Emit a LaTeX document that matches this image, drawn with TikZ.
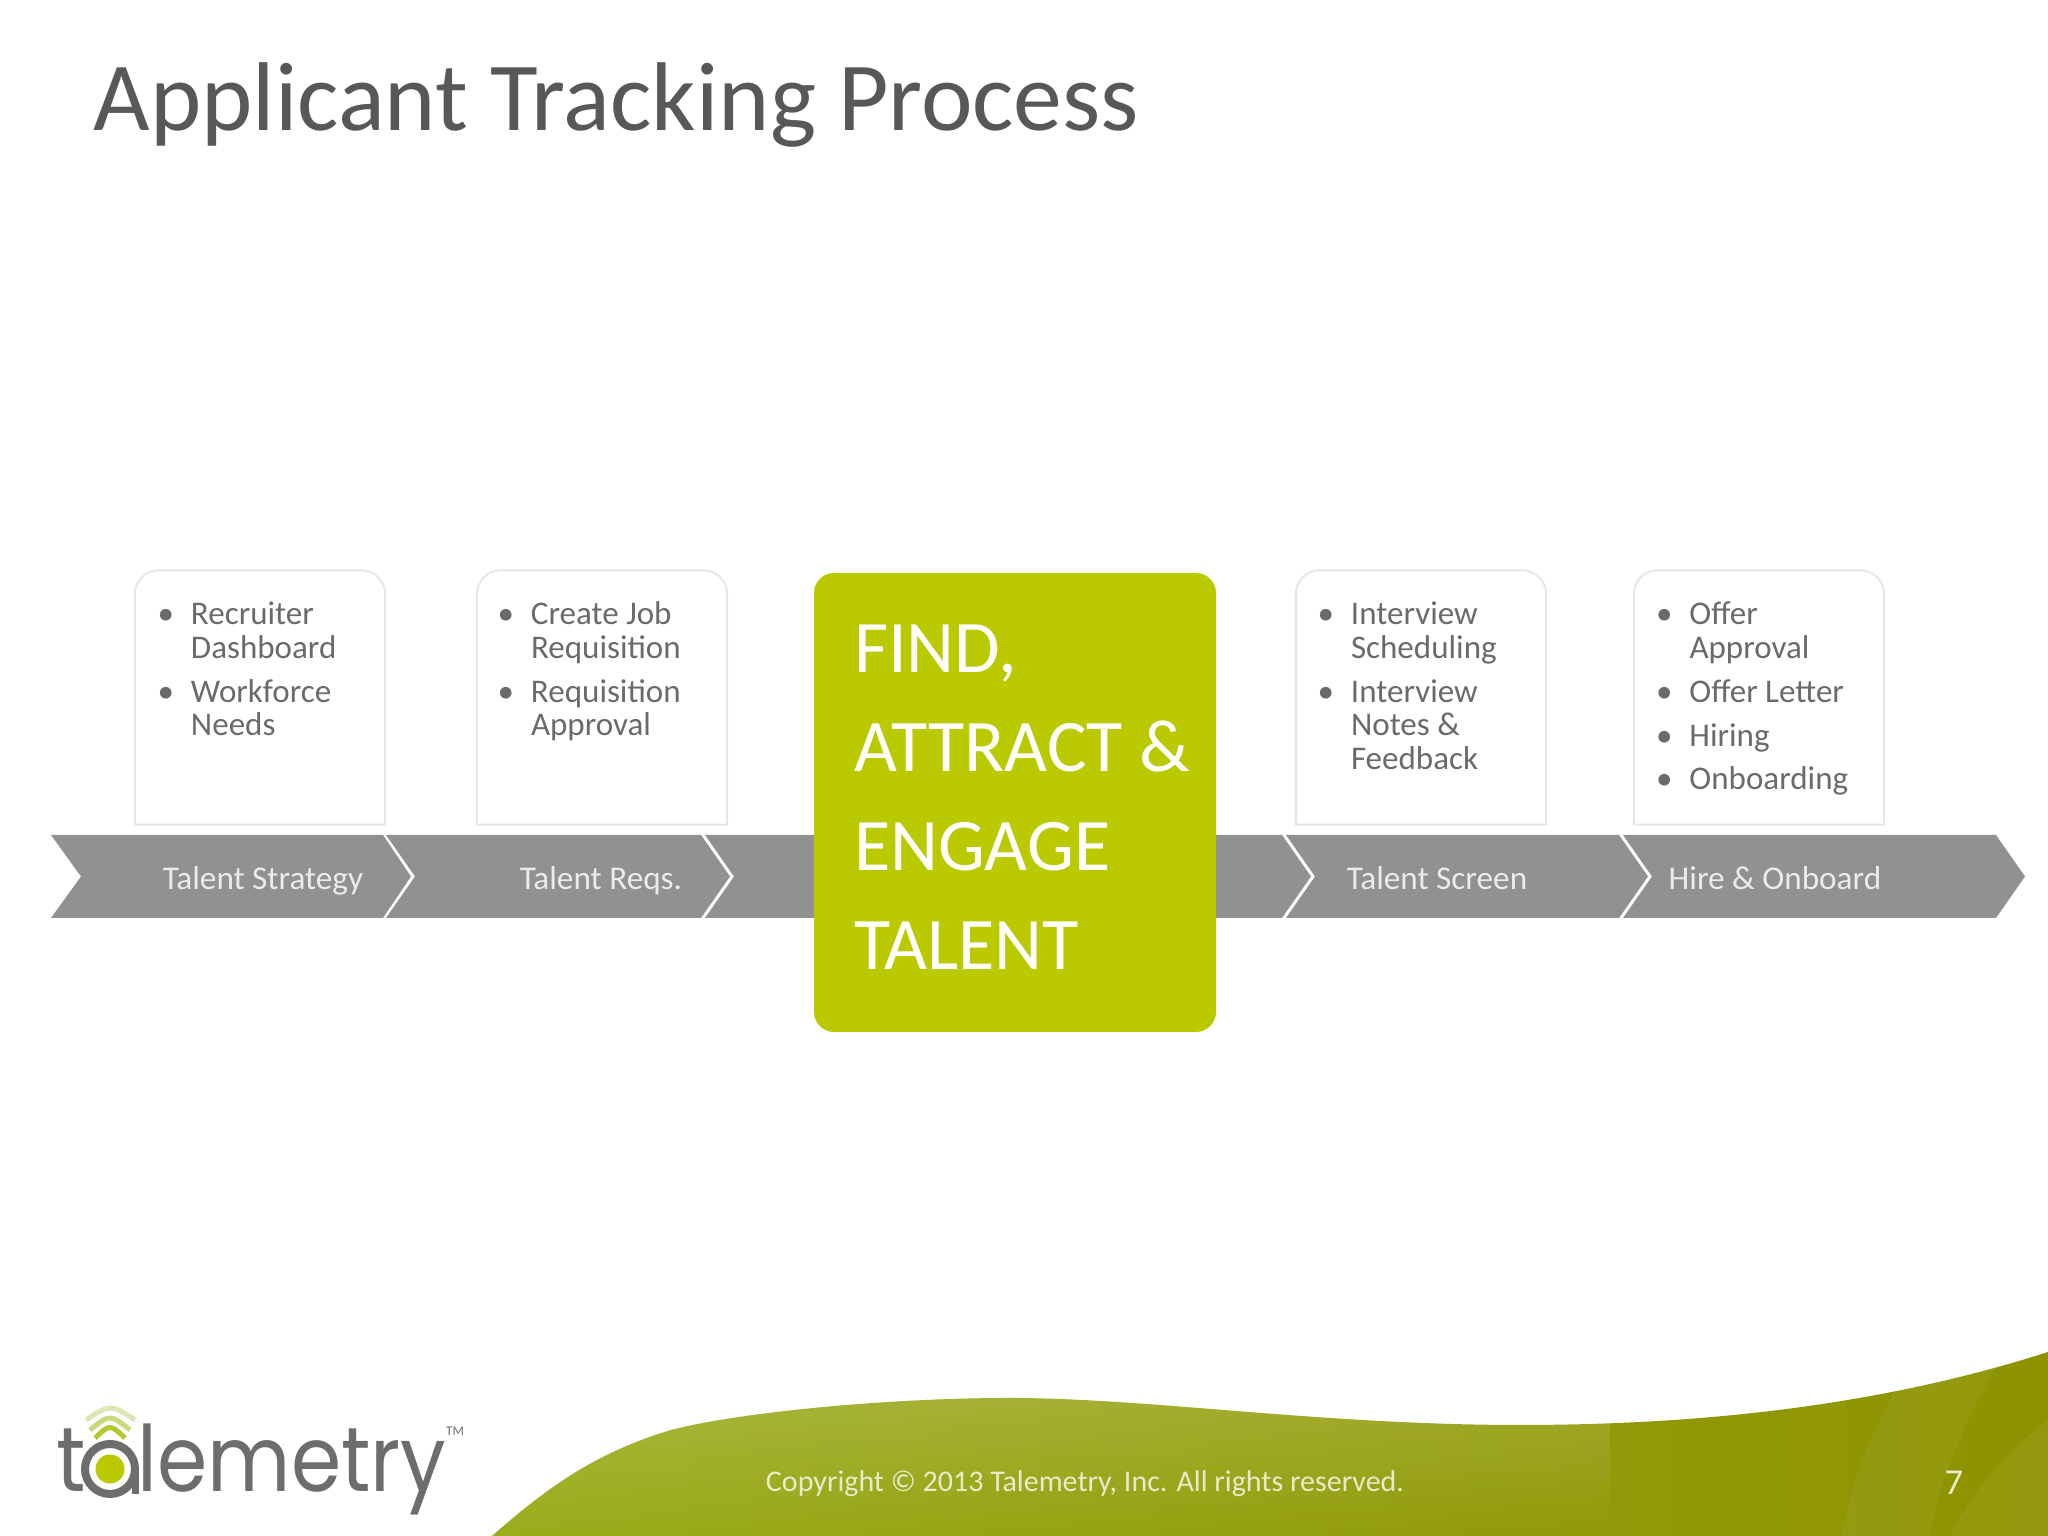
\documentclass[tikz,border=0pt]{standalone}
\usepackage{fontspec}
\setmainfont{Carlito}
\newfontfamily\logofont[FakeStretch=0.885]{Poppins}
\usetikzlibrary{positioning,fadings}

\definecolor{titlegrey}{HTML}{58585A}
\definecolor{itemgrey}{HTML}{6A6A6A}
\definecolor{boxline}{HTML}{E6E6E6}
\definecolor{bandgrey}{HTML}{919191}
\definecolor{findgreen}{HTML}{BBC900}
\definecolor{logogrey}{HTML}{6D6D6D}
\definecolor{logofade}{HTML}{DDE6B5}
\definecolor{logomid}{HTML}{CBD87A}
\definecolor{logolow}{HTML}{B5C92E}
\definecolor{footertext}{HTML}{E8EBC8}
\definecolor{swooshA}{HTML}{9AAD1C}
\definecolor{swooshB}{HTML}{98A914}
\definecolor{swooshC}{HTML}{8E9200}

\tikzfading[name=swoosh fade,top color=transparent!0,bottom color=transparent!100]

\newcommand{\tbul}{\strut\llap{\textbullet\hspace{0.17cm}}}
\newcommand{\swooshpath}{(4.92,0)
    .. controls (5.4,0.42) and (5.9,0.82) .. (6.71,1.06)
    .. controls (7.4,1.24) and (8.9,1.38) .. (10.09,1.38)
    .. controls (11.5,1.38) and (13.2,1.11) .. (15.2,1.11)
    .. controls (17,1.11) and (18.8,1.30) .. (20.48,1.84)
    -- (20.48,0) -- cycle}

\begin{document}
\begin{tikzpicture}[auto,node distance=3.42cm,
        item box/.style={rectangle,minimum width=2.49cm,minimum height=2.53cm,inner sep=0pt},
        item text/.style={inner sep=0pt,align=left,text=itemgrey,font=\fontsize{9.4}{9.55}\selectfont},
        band/.style={fill=bandgrey},
        band label/.style={anchor=base,inner sep=0pt,text=white!92!black,font=\fontsize{9.45}{10}\selectfont},
        logo text/.style={anchor=base west,inner sep=0pt,text=logogrey,font=\logofont\fontsize{26}{30}\selectfont},
        logo arc/.style={line width=0.05cm}]

    \useasboundingbox (0,0) rectangle (20.48,15.36);

    % swoosh
    \path[left color=swooshA,middle color=swooshB,right color=swooshC] \swooshpath;
    \begin{scope}
        \clip \swooshpath;
        \fill[white,fill opacity=0.14,path fading=swoosh fade] (4.5,0) rectangle (16.1,1.40);
        \fill[white,fill opacity=0.05] (19.2,1.9) .. controls (18.8,1.2) and (18.5,0.6) .. (18.42,0) -- (19.3,0) .. controls (19.4,0.6) and (19.7,1.3) .. (20.1,1.9) -- cycle;
        \fill[white,fill opacity=0.05] (20.48,1.16) .. controls (20,0.8) and (19.7,0.4) .. (19.5,0) -- (20.48,0) -- cycle;
    \end{scope}

    \node[anchor=base west,inner sep=0pt,text=titlegrey,font=\fontsize{27.8}{30}\selectfont] (title) at (0.93,14.05) {Applicant Tracking Process};

    % item boxes
    \node[item box] (dash) at (2.60,8.385) {};
    \node[item box] (reqs) [right of=dash] {};
    \node[item box] (screen) [right of=reqs,node distance=8.19cm] {};
    \node[item box] (hire) [right of=screen,node distance=3.38cm] {};

    \foreach \b in {dash,reqs,screen,hire}
        \draw[boxline,line width=0.55pt] (\b.south west) [rounded corners=0.24cm] -- (\b.north west) -- (\b.north east) [sharp corners] -- (\b.south east) -- cycle;

    \node[item text] (dash text) [below right=0.305cm and 0.555cm of dash.north west]
        {\tbul Recruiter\\Dashboard\\[2.9pt]\tbul Workforce\\Needs};
    \node[item text] (reqs text) [below right=0.305cm and 0.535cm of reqs.north west]
        {\tbul Create Job\\Requisition\\[2.9pt]\tbul Requisition\\Approval};
    \node[item text] (screen text) [below right=0.305cm and 0.545cm of screen.north west]
        {\tbul Interview\\Scheduling\\[2.9pt]\tbul Interview\\Notes \&\\Feedback};
    \node[item text] (hire text) [below right=0.305cm and 0.55cm of hire.north west]
        {\tbul Offer\\Approval\\[2.9pt]\tbul Offer Letter\\[2.9pt]\tbul Hiring\\[2.9pt]\tbul Onboarding};

    % band
    \fill[band] (0.51,7.01) -- (3.83,7.01) -- (4.11,6.595) -- (3.83,6.18) -- (0.51,6.18) -- (0.81,6.595) -- cycle;
    \foreach \l/\t in {3.86/7.01,7.05/12.82,12.86/16.19,16.23/19.96}
        \fill[band] (\l,7.01) -- (\t,7.01) -- ++(0.29,-0.415) -- (\t,6.18) -- (\l,6.18) -- ++(0.29,0.415) -- cycle;

    \node[band label] (strategy) at (2.63,6.46) {Talent Strategy};
    \node[band label] (req) at (6.01,6.46) {Talent Reqs.};
    \node[band label] (scr) at (14.37,6.46) {Talent Screen};
    \node[band label] (onb) at (17.75,6.46) {Hire \& Onboard};

    \node[fill=findgreen,rounded corners=0.2cm,minimum width=4.02cm,minimum height=4.59cm] (find) at (10.15,7.335) {};
    \node[inner sep=0pt,align=left,text=white,font=\fontsize{21.1}{28.2}\selectfont,yshift=0.05cm] (find text) [right=0.4cm of find.west]
        {FIND,\\ATTRACT \&\\ENGAGE\\TALENT};

    % logo
    \node[logo text] (logo t) at (0.56,0.44) {t};
    \node[logo text] (logo rest) at (1.37,0.44) {lemetry};
    \node[circle,draw=logogrey,line width=0.08cm,minimum size=0.50cm,inner sep=0pt] (ring) at (1.10,0.67) {};
    \node[circle,fill=findgreen,minimum size=0.29cm,inner sep=0pt] (dot) at (ring) {};
    \draw[logogrey,line width=0.07cm] ([xshift=-0.04cm]ring.east) -- ++(0,-0.25);
    \draw[logofade,logo arc] (0.86,1.16) .. controls (1.105,1.32) .. (1.35,1.16);
    \draw[logomid,logo arc] (0.90,1.06) .. controls (1.10,1.22) .. (1.30,1.06);
    \draw[logolow,logo arc] (0.95,0.98) .. controls (1.10,1.12) .. (1.25,0.98);
    \node[inner sep=0pt,text=logogrey,font=\fontsize{3.8}{4}\selectfont] (tm) at (4.55,1.05) {TM};

    % footer
    \node[inner sep=0pt,text=footertext,font=\fontsize{8.54}{9}\selectfont] (copy) at (10.85,0.52) {Copyright © 2013 Talemetry, Inc. All rights reserved.};
    \node[inner sep=0pt,text=footertext,font=\fontsize{10.4}{11}\selectfont] (page) at (19.54,0.53) {7};
\end{tikzpicture}
\end{document}
